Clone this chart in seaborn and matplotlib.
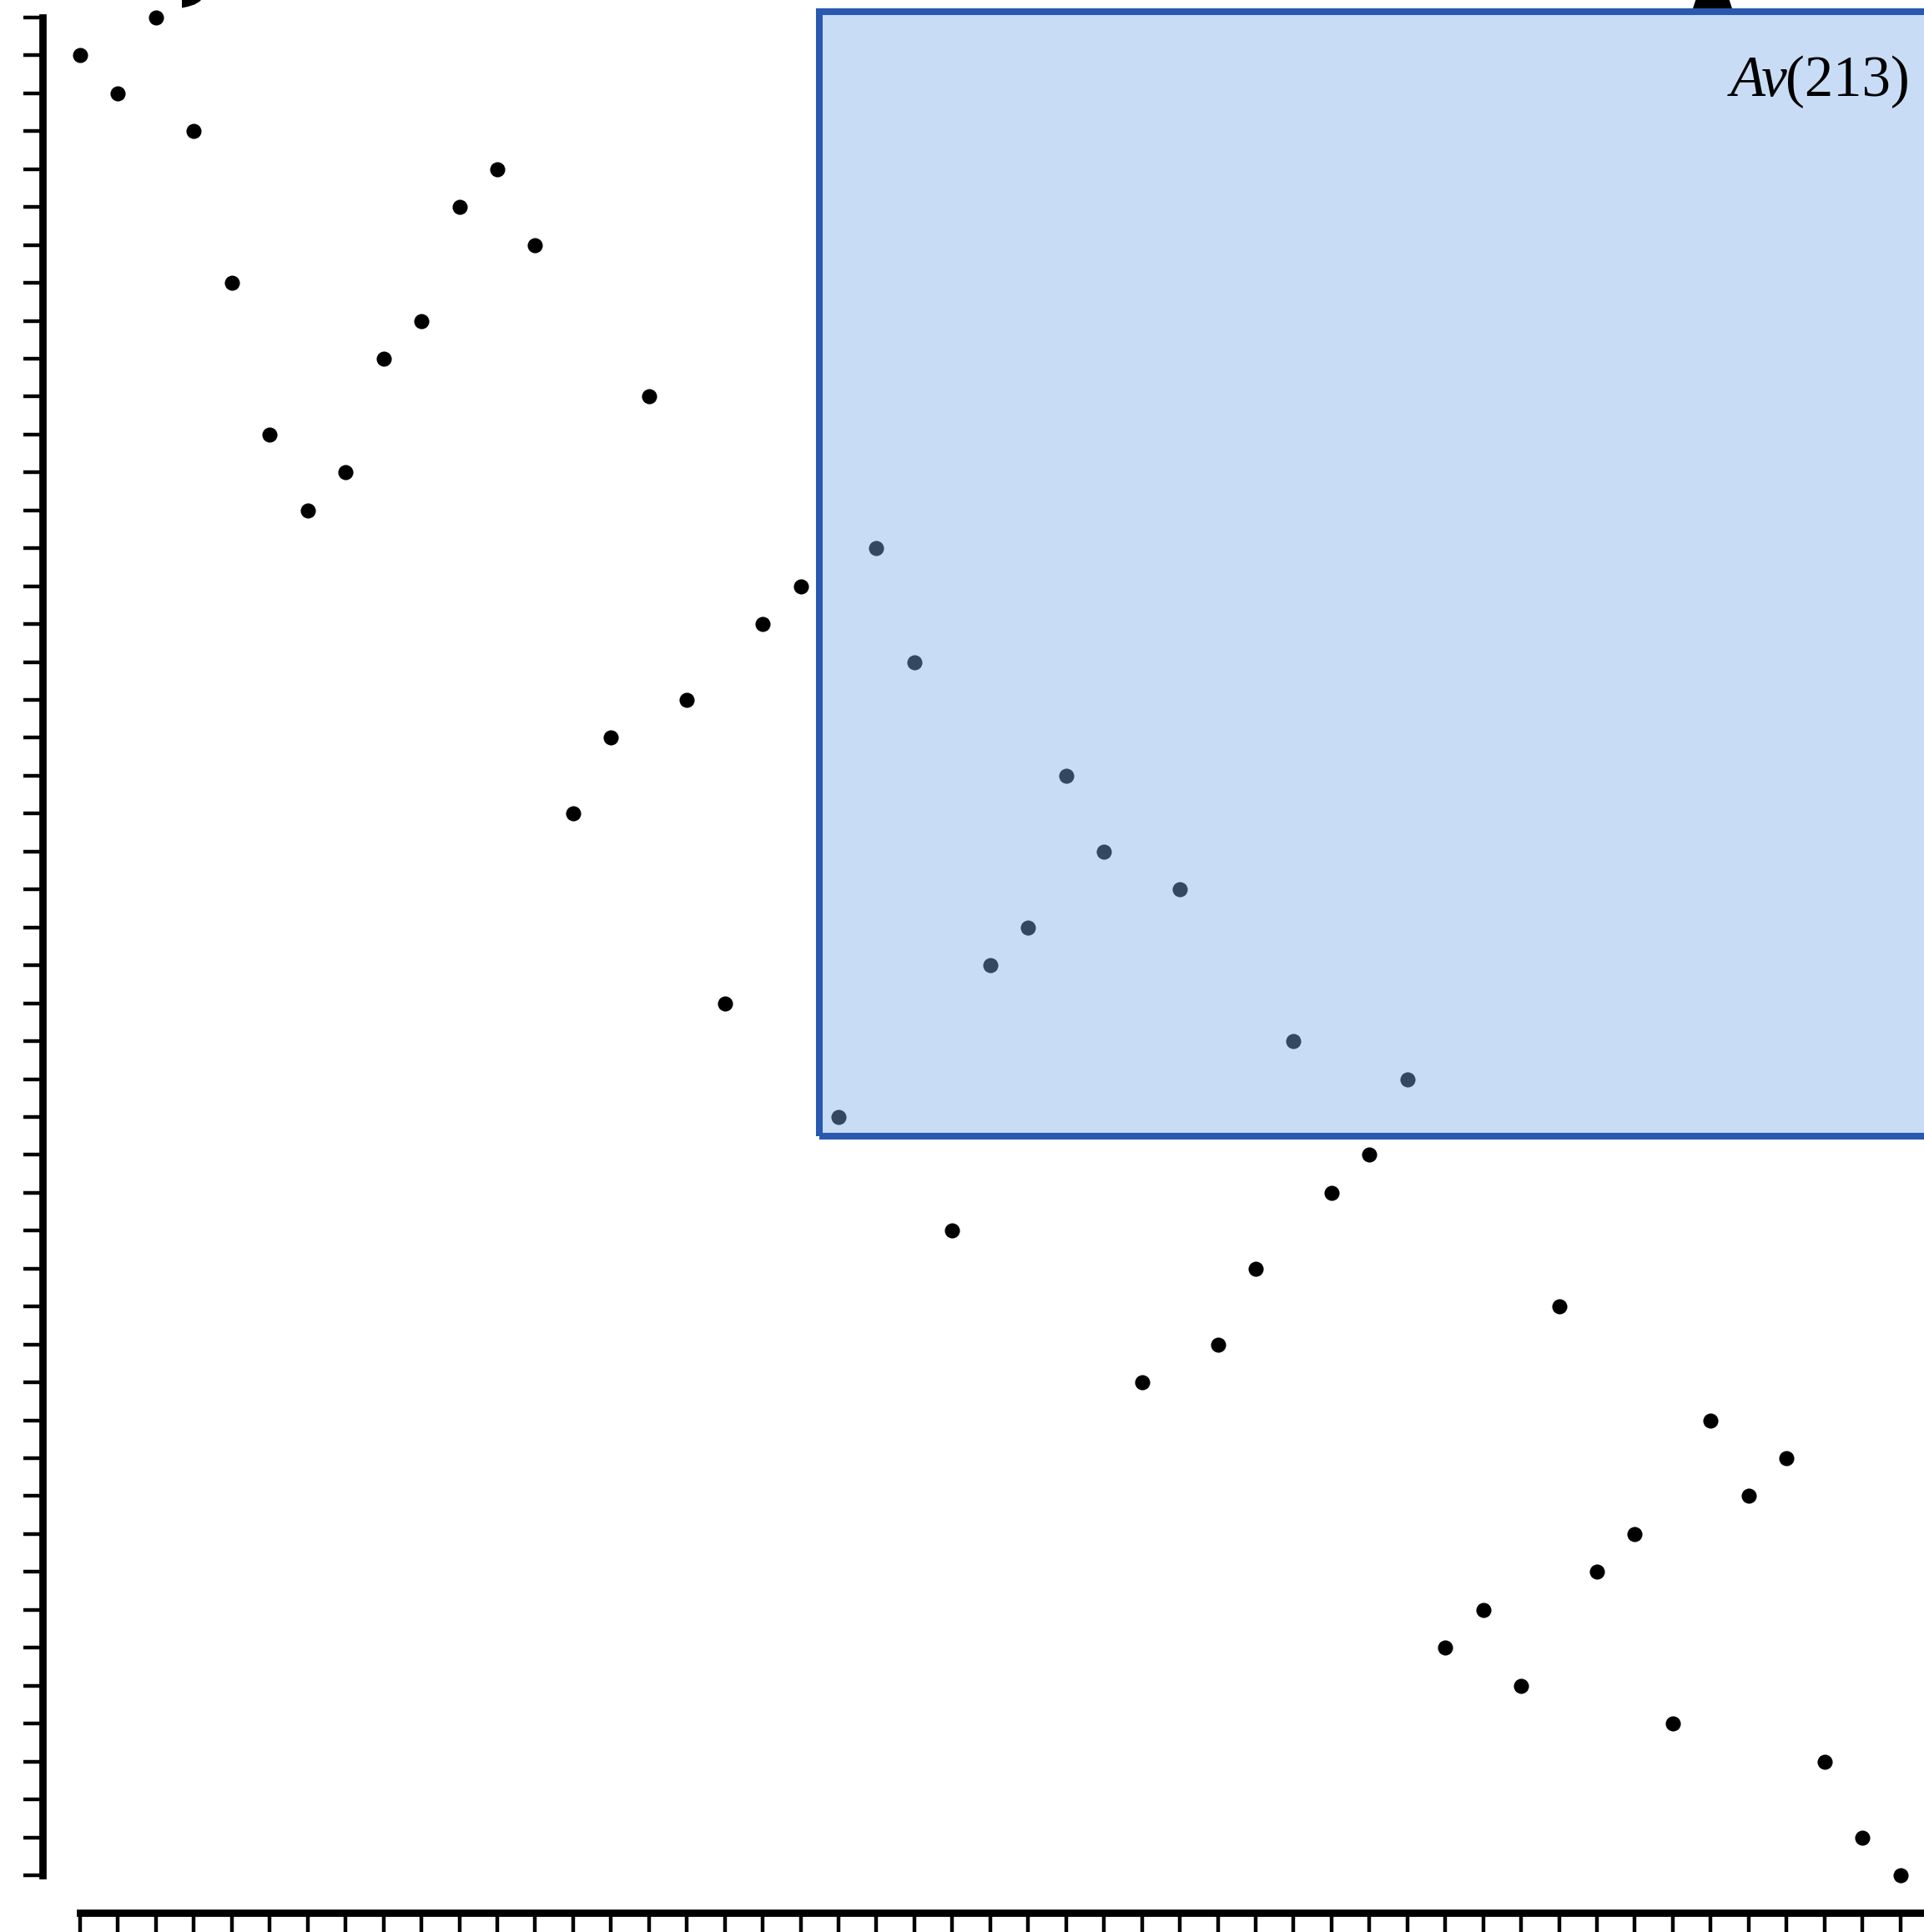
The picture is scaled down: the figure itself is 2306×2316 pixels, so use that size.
import matplotlib
matplotlib.use("Agg")
import matplotlib.pyplot as plt
import seaborn as sns
import pandas as pd
from matplotlib.patches import Rectangle, Polygon

# ---- data ----
positions = list(range(1, 51))
values = [49, 48, 50, 47, 43, 39, 37, 38, 41, 42,
          45, 46, 44, 29, 31, 40, 32, 24, 34, 35,
          21, 36, 33, 18, 25, 26, 30, 28, 14, 27,
          15, 17, 23, 19, 20, 22, 7, 8, 6, 16,
          9, 10, 5, 13, 11, 12, 4, 2, 1, 3]
x_ticks = list(range(1, 51))
y_ticks = list(range(1, 51))
box_x0, box_y0, box_x1, box_y1 = 20.5, 20.5, 51.0, 50.15
label_italic = "Av"
label_plain = "(213)"

df = pd.DataFrame({"pos": positions, "val": values})

sns.set_style("white")
plt.rcParams["font.family"] = ["Liberation Serif", "DejaVu Serif"]

W, H = 2306, 2316
fig = plt.figure(figsize=(W / 100, H / 100), dpi=100)
ax = fig.add_axes([0, 0, 1, 1])

sns.scatterplot(data=df, x="pos", y="val", color="black", s=170,
                linewidth=0, ax=ax, zorder=3, legend=False)

ax.add_patch(Rectangle((box_x0, box_y0), box_x1 - box_x0, box_y1 - box_y0,
                       facecolor=(124 / 255, 176 / 255, 232 / 255, 0.42),
                       edgecolor="none", zorder=4))
ax.add_patch(Rectangle((box_x0, box_y0), box_x1 - box_x0, box_y1 - box_y0,
                       facecolor="none", edgecolor="#2858b0", linewidth=5.8,
                       zorder=5, clip_on=False))

unit = 45.45
ax.set_xticks(x_ticks)
ax.set_yticks(y_ticks)
ax.set_xticklabels([])
ax.set_yticklabels([])
ax.set_xlabel("")
ax.set_ylabel("")
ax.tick_params(axis="both", direction="out", length=16.6, width=3.2,
               color="black", left=True, bottom=True)

for side in ["top", "right"]:
    ax.spines[side].set_visible(False)
ax.spines["left"].set_position(("data", 0))
ax.spines["bottom"].set_position(("data", 0))
ax.spines["left"].set_bounds(1, 50)
ax.spines["bottom"].set_bounds(1, 50)
for side in ["left", "bottom"]:
    ax.spines[side].set_linewidth(6.3)
    ax.spines[side].set_color("black")
    ax.spines[side].set_capstyle("projecting")

ax.set_autoscale_on(False)
ax.set_xlim(1 - 96 / unit, 1 + (W - 96) / unit)
ax.set_ylim(1 - (H - 2248) / unit, 1 + 2248 / unit)

# label: italic "Av" followed by upright "(213)"
tx, ty = 49.25, 47.93
fs = 49.5
t2 = ax.text(tx, ty, label_plain, ha="right", va="baseline", fontsize=fs,
             family="Liberation Serif", color="black", zorder=6)
fig.canvas.draw()
w2 = t2.get_window_extent().width
ax.text(tx - (w2 - 2) / unit, ty, label_italic, ha="right", va="baseline",
        fontsize=fs, family="Liberation Serif", style="italic",
        color="black", zorder=6)

def px(pts):
    return [(x / W, 1 - y / H) for x, y in pts]

fig.patches.append(Polygon(px([(218, -2), (218, 9.5), (225, 8), (233, 5.5),
                               (239, 2), (243, -2)]),
                           closed=True, facecolor="black", edgecolor="none",
                           transform=fig.transFigure, figure=fig))
fig.patches.append(Polygon(px([(2033, -2), (2029, 10), (2076, 10), (2072, -2)]),
                           closed=True, facecolor="black", edgecolor="none",
                           transform=fig.transFigure, figure=fig, zorder=0))

fig.savefig("out.png", dpi=100, facecolor="white")
